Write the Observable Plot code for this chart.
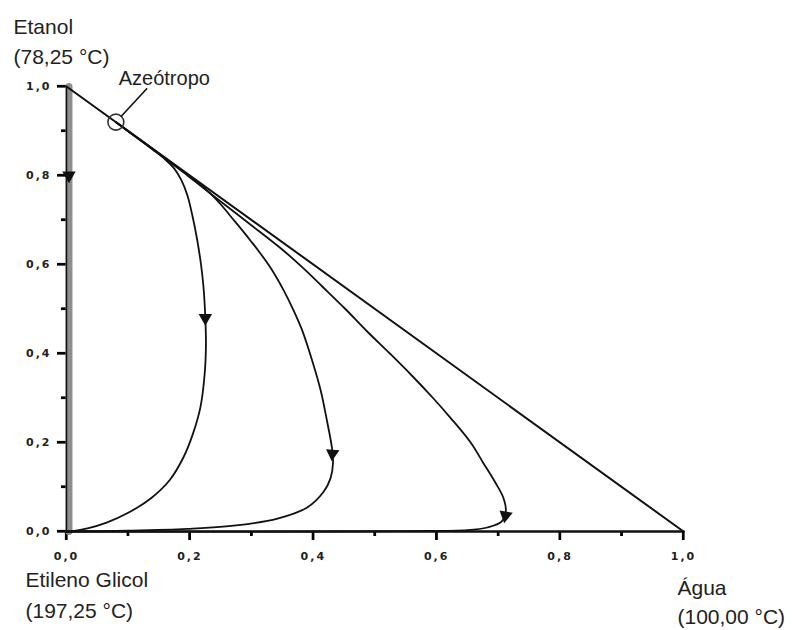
<!DOCTYPE html>
<html>
<head>
<meta charset="utf-8">
<script src="https://cdn.jsdelivr.net/npm/d3@7"></script>
<script src="https://cdn.jsdelivr.net/npm/@observablehq/plot@0.6"></script>
<style>
  html, body { margin: 0; padding: 0; background: #fff; }
  #chart svg { display: block; background: #fff; }
  g[aria-label$="tick label"] text { letter-spacing: 2px; }
</style>
</head>
<body>
<div id="chart"></div>
<script>
// ---- data ----
const xMajorTicks = [0, 0.2, 0.4, 0.6, 0.8, 1.0];
const xMinorTicks = [0.1, 0.3, 0.5, 0.7, 0.9];
const yMajorTicks = [0, 0.2, 0.4, 0.6, 0.8, 1.0];
const yMinorTicks = [0.1, 0.3, 0.5, 0.7, 0.9];

// triangle edges (water x, ethanol y)
const hypotenuse = [{x: 0, y: 1}, {x: 1, y: 0}];
const xEdge = [{x: 0, y: 0}, {x: 1, y: 0}];
const yEdge = [{x: 0, y: 0}, {x: 0, y: 1}];

// residue curve along the ethanol / ethylene glycol edge
const edgeCurve = [{x: 0.004, y: 0}, {x: 0.004, y: 1}];

const azeotrope = [{x: 0.08, y: 0.92}];
const azeoLabel = [{text: "Azeótropo", x0: 0.08, y0: 0.92, x: 0.13, y: 0.995}];

const curve1 = [
  [0.08,0.92],[0.11,0.889],[0.14,0.858],[0.16,0.836],[0.175,0.815],[0.186,0.79],
  [0.196,0.755],[0.204,0.71],[0.212,0.654],[0.218,0.60],[0.222,0.55],[0.225,0.48],
  [0.226,0.42],[0.224,0.355],[0.217,0.279],[0.205,0.22],[0.19,0.168],[0.168,0.117],
  [0.138,0.076],[0.1,0.042],[0.065,0.02],[0.034,0.007],[0.01,0.001],[0,0]
].map(([x, y]) => ({x, y}));

const curve2 = [
  [0.08,0.92],[0.12,0.879],[0.16,0.839],[0.19,0.808],[0.215,0.782],[0.235,0.757],
  [0.252,0.732],[0.268,0.705],[0.283,0.68],[0.298,0.654],[0.311,0.631],[0.332,0.59],
  [0.352,0.542],[0.368,0.497],[0.382,0.452],[0.398,0.385],[0.412,0.317],[0.422,0.25],
  [0.43,0.19],[0.432,0.155],[0.428,0.12],[0.417,0.09],[0.39,0.054],[0.342,0.029],
  [0.271,0.013],[0.196,0.006],[0.1,0.002],[0,0]
].map(([x, y]) => ({x, y}));

const curve3 = [
  [0.08,0.92],[0.149,0.85],[0.196,0.8],[0.242,0.75],[0.298,0.69],[0.352,0.631],
  [0.385,0.59],[0.415,0.55],[0.452,0.5],[0.487,0.45],[0.524,0.4],[0.56,0.35],
  [0.594,0.3],[0.622,0.256],[0.655,0.2],[0.676,0.153],[0.695,0.11],[0.708,0.076],
  [0.712,0.045],[0.705,0.022],[0.682,0.009],[0.65,0.003],[0.55,0.001],[0.4,0],[0,0]
].map(([x, y]) => ({x, y}));

// direction arrows on the curves (angle = pointing direction, degrees clockwise from up)
const arrows = [
  {x: 0.004, y: 0.8, angle: 180},
  {x: 0.225, y: 0.48, angle: 180},
  {x: 0.431, y: 0.175, angle: 185},
  {x: 0.7115, y: 0.036, angle: 190}
];

const fmt = d => d.toFixed(1).replace(".", ",");
const labelFont = "Liberation Sans, Arial, sans-serif";
const tickFont = "DejaVu Sans, sans-serif";
const ink = "#111";

const chart = Plot.plot({
  width: 793,
  height: 630,
  marginTop: 86,
  marginBottom: 99,
  marginLeft: 66,
  marginRight: 110,
  x: {domain: [0, 1], axis: null},
  y: {domain: [0, 1], axis: null},
  marks: [
    // axes: major ticks with labels, minor ticks without
    Plot.axisX(xMajorTicks, {tickSize: 9, tickPadding: 12, tickFormat: fmt, stroke: "#000", strokeWidth: 2.2, label: null,
      fontSize: 11, fontWeight: "bold", fontFamily: tickFont, fill: "#222"}),
    Plot.axisX(xMinorTicks, {tickSize: 5, tickFormat: () => "", stroke: "#000", strokeWidth: 2.2, label: null}),
    Plot.axisY(yMajorTicks, {tickSize: 9, tickPadding: 6, tickFormat: fmt, stroke: "#000", strokeWidth: 2.2, label: null,
      fontSize: 11, fontWeight: "bold", fontFamily: tickFont, fill: "#222"}),
    Plot.axisY(yMinorTicks, {tickSize: 5, tickFormat: () => "", stroke: "#000", strokeWidth: 2.2, label: null}),
    // tick marks also as small filled bars (robust rendering)
    Plot.rect(xMajorTicks, {x1: d => d, x2: d => d, y1: () => 0, y2: () => 0,
      insetLeft: -1.1, insetRight: -1.1, insetTop: 0, insetBottom: -9, fill: "#000"}),
    Plot.rect(xMinorTicks, {x1: d => d, x2: d => d, y1: () => 0, y2: () => 0,
      insetLeft: -1.1, insetRight: -1.1, insetTop: 0, insetBottom: -5, fill: "#000"}),
    Plot.rect(yMajorTicks, {y1: d => d, y2: d => d, x1: () => 0, x2: () => 0,
      insetTop: -1.1, insetBottom: -1.1, insetLeft: -9, insetRight: 0, fill: "#000"}),
    Plot.rect(yMinorTicks, {y1: d => d, y2: d => d, x1: () => 0, x2: () => 0,
      insetTop: -1.1, insetBottom: -1.1, insetLeft: -5, insetRight: 0, fill: "#000"}),

    // gray residue line on the left edge
    Plot.line(edgeCurve, {x: "x", y: "y", stroke: "#8e8e8e", strokeWidth: 7}),
    Plot.line(yEdge, {x: "x", y: "y", stroke: ink, strokeWidth: 1.5}),
    Plot.line(xEdge, {x: "x", y: "y", stroke: ink, strokeWidth: 2.6}),
    Plot.line(hypotenuse, {x: "x", y: "y", stroke: ink, strokeWidth: 2}),

    // residue curves
    Plot.line(curve1, {x: "x", y: "y", curve: "catmull-rom", stroke: ink, strokeWidth: 1.8}),
    Plot.line(curve2, {x: "x", y: "y", curve: "catmull-rom", stroke: ink, strokeWidth: 1.8}),
    Plot.line(curve3, {x: "x", y: "y", curve: "catmull-rom", stroke: ink, strokeWidth: 1.8}),

    // arrows
    Plot.dot(arrows, {x: "x", y: "y", symbol: "triangle", r: 5, fill: ink, stroke: "none", rotate: "angle"}),

    // azeotrope marker and label
    Plot.dot(azeotrope, {x: "x", y: "y", r: 8, stroke: "#333", strokeWidth: 1.6, fill: "none"}),
    Plot.arrow(azeoLabel, {x1: "x0", y1: "y0", x2: "x", y2: "y", insetStart: 8, headLength: 0, stroke: ink, strokeWidth: 1.6}),
    Plot.text(azeoLabel, {x: "x", y: "y", text: "text", textAnchor: "start", lineAnchor: "middle",
      dx: -28, dy: -10, fontSize: 20, fontFamily: labelFont, fill: "#222"}),

    // vertex labels
    Plot.text(["Etanol"], {x: 0, y: 1, text: d => d, textAnchor: "start", lineAnchor: "middle",
      dx: -53, dy: -59, fontSize: 21, fontFamily: labelFont, fill: "#222"}),
    Plot.text(["(78,25 °C)"], {x: 0, y: 1, text: d => d, textAnchor: "start", lineAnchor: "middle",
      dx: -53, dy: -29, fontSize: 21, fontFamily: labelFont, fill: "#222"}),
    Plot.text(["Etileno Glicol"], {x: 0, y: 0, text: d => d, textAnchor: "start", lineAnchor: "middle",
      dx: -41, dy: 49, fontSize: 21, fontFamily: labelFont, fill: "#222"}),
    Plot.text(["(197,25 °C)"], {x: 0, y: 0, text: d => d, textAnchor: "start", lineAnchor: "middle",
      dx: -41, dy: 80, fontSize: 21, fontFamily: labelFont, fill: "#222"}),
    Plot.text(["Água"], {x: 1, y: 0, text: d => d, textAnchor: "start", lineAnchor: "middle",
      dx: -6, dy: 57, fontSize: 21, fontFamily: labelFont, fill: "#222"}),
    Plot.text(["(100,00 °C)"], {x: 1, y: 0, text: d => d, textAnchor: "start", lineAnchor: "middle",
      dx: -6, dy: 86, fontSize: 21, fontFamily: labelFont, fill: "#222"})
  ]
});
document.getElementById("chart").appendChild(chart);
</script>
</body>
</html>
